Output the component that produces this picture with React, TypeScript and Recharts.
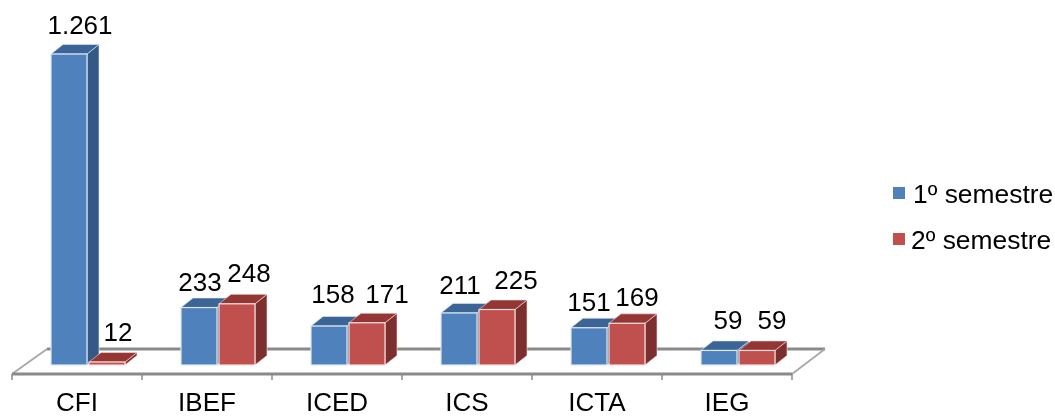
import { Bar, BarChart, LabelList, XAxis, YAxis } from 'recharts';

const categories = ['CFI', 'IBEF', 'ICED', 'ICS', 'ICTA', 'IEG'];
const seriesNames = ['1º semestre', '2º semestre'];
const semester1 = [1261, 233, 158, 211, 151, 59];
const semester2 = [12, 248, 171, 225, 169, 59];

const rows = categories.map((name, i) => ({ name, s1: semester1[i], s2: semester2[i] }));

const FONT = '"Liberation Sans", Arial, sans-serif';
const WIDTH = 1055;
const HEIGHT = 416;
const AXIS_HEIGHT = 42;
const MARGIN = { top: 0, right: 263, bottom: 0, left: 12 };
const BAND = (WIDTH - MARGIN.left - MARGIN.right) / categories.length;
const DEPTH_X = 12;
const DEPTH_Y = 9.5;
const BAR_SHIFT = 11; // bars stand mid-floor, right of the tick centres

// hand-placed data labels in the original, [dx from bar centre, dy above bar top]
const nudge1 = [[11, 20], [1, 17], [4, 23], [1, 19], [0, 17], [9, 21]];
const nudge2 = [[11, 21], [12, 22], [20, 20], [19, 21], [10, 17], [15, 21]];

const palette = {
  s1: { front: '#4f81bd', side: '#335a87', top: '#3b6596', edge: '#dfe8f3' },
  s2: { front: '#c0504d', side: '#7b2f2e', top: '#943634', edge: '#f5dfde' },
};

function format(v: number) {
  return v >= 1000 ? `${Math.floor(v / 1000)}.${String(v % 1000).padStart(3, '0')}` : String(v);
}

function Box3D({ x, y, width, height, colors }: any) {
  const left = x + BAR_SHIFT;
  const right = left + width;
  const bottom = y + height;
  return (
    <g>
      <polygon
        points={`${right},${y} ${right + DEPTH_X},${y - DEPTH_Y} ${right + DEPTH_X},${bottom - DEPTH_Y} ${right},${bottom}`}
        fill={colors.side}
        stroke={colors.edge}
        strokeWidth={0.6}
      />
      <polygon
        points={`${left},${y} ${right},${y} ${right + DEPTH_X},${y - DEPTH_Y} ${left + DEPTH_X},${y - DEPTH_Y}`}
        fill={colors.top}
        stroke={colors.edge}
        strokeWidth={0.6}
      />
      <rect x={left} y={y} width={width} height={height} fill={colors.front} stroke={colors.edge} strokeWidth={1.2} />
    </g>
  );
}

function Floor() {
  const x0 = MARGIN.left;
  const x1 = WIDTH - MARGIN.right;
  const front = HEIGHT - AXIS_HEIGHT;
  const back = front - 25;
  return (
    <g>
      <line x1={x0 + 35} y1={back} x2={x1 + 33} y2={back} stroke="#8a8a8a" strokeWidth={3} />
      <line x1={x0} y1={front} x2={x0 + 35} y2={back} stroke="#a8a8a8" strokeWidth={1.8} />
      <line x1={x1} y1={front} x2={x1 + 33} y2={back} stroke="#a8a8a8" strokeWidth={1.8} />
    </g>
  );
}

// ticks sit on the category boundaries, the name stays centred between them
function CategoryTick({ x, payload, index }: any) {
  const top = HEIGHT - AXIS_HEIGHT;
  const edges = index === categories.length - 1 ? [x - BAND / 2, x + BAND / 2] : [x - BAND / 2];
  return (
    <g>
      {edges.map((ex) => (
        <line key={ex} x1={ex} y1={top} x2={ex} y2={top + 6} stroke="#8a8a8a" strokeWidth={1.5} />
      ))}
      <text x={x} y={410.5} textAnchor="middle" fontFamily={FONT} fontSize={26} fill="#000000">
        {payload.value}
      </text>
    </g>
  );
}

function ValueLabel({ x, y, width, value, index, nudges }: any) {
  const [dx, dy] = nudges[index];
  return (
    <text x={x + BAR_SHIFT + width / 2 + dx} y={y - dy} textAnchor="middle" fontFamily={FONT} fontSize={26} fill="#000000">
      {format(value)}
    </text>
  );
}

function LegendBox() {
  const colors = [palette.s1.front, palette.s2.front];
  return (
    <div style={{ position: 'absolute', left: 893, top: 170 }}>
      {seriesNames.map((label, i) => (
        <div key={label} style={{ display: 'flex', alignItems: 'center', height: 46, fontFamily: FONT, fontSize: 26.4, color: '#000', whiteSpace: 'nowrap' }}>
          <span style={{ width: 12, height: 12, background: colors[i], marginRight: i === 0 ? 8 : 6 }} />
          <span style={{ position: 'relative', top: 1 }}>{label}</span>
        </div>
      ))}
    </div>
  );
}

export default function App() {
  return (
    <div style={{ position: 'absolute', left: 0, top: 0, width: WIDTH, height: HEIGHT, filter: 'blur(0.4px)' }}>
      <BarChart width={WIDTH} height={HEIGHT} data={rows} margin={MARGIN} barCategoryGap={28} barGap={2}>
        <Floor />
        <YAxis hide domain={[-36.5, 1480]} />
        <XAxis
          dataKey="name"
          interval={0}
          height={AXIS_HEIGHT}
          axisLine={{ stroke: '#8a8a8a', strokeWidth: 3 }}
          tickLine={false}
          tick={(p: any) => <CategoryTick {...p} />}
        />
        <Bar dataKey="s1" name={seriesNames[0]} fill={palette.s1.front} isAnimationActive={false} shape={(p: any) => <Box3D {...p} colors={palette.s1} />}>
          <LabelList dataKey="s1" content={(p: any) => <ValueLabel {...p} nudges={nudge1} />} />
        </Bar>
        <Bar dataKey="s2" name={seriesNames[1]} fill={palette.s2.front} isAnimationActive={false} shape={(p: any) => <Box3D {...p} colors={palette.s2} />}>
          <LabelList dataKey="s2" content={(p: any) => <ValueLabel {...p} nudges={nudge2} />} />
        </Bar>
      </BarChart>
      <LegendBox />
    </div>
  );
}
